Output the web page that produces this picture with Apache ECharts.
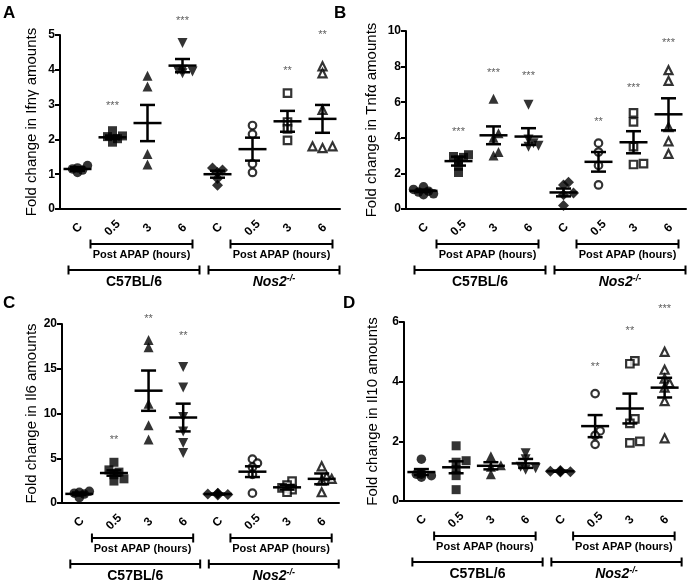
<!DOCTYPE html>
<html><head><meta charset="utf-8">
<script src="https://cdn.jsdelivr.net/npm/echarts@6/dist/echarts.min.js"></script>
<style>html,body{margin:0;padding:0;background:#fff}#c{width:688px;height:585px}</style>
</head><body><div id="c"></div>
<script>
// ---------- DATA ----------
const categories = ['C', '0.5', '3', '6', 'C', '0.5', '3', '6'];
const bracketInner = 'Post APAP (hours)';
const strainLabels = ['C57BL/6', 'Nos2'];

// Panel A: Ifng
const ifngPoints = [
  [1.05, 1.12, 1.18, 1.25, 1.15],
  [1.92, 2.02, 2.08, 2.1, 2.25],
  [3.83, 3.52, 1.58, 1.28],
  [4.77, 4.0, 3.95, 3.9, 4.0],
  [1.18, 1.12, 1.05, 0.88, 0.68],
  [2.4, 2.15, 1.3, 1.05],
  [3.33, 2.5, 2.3, 1.97],
  [4.1, 3.9, 2.85, 1.8, 1.75, 1.8]
];
const ifngMeans = [1.15, 2.06, 2.47, 4.12, 1.0, 1.72, 2.52, 2.59];
const ifngSems  = [0.05, 0.05, 0.52, 0.19, 0.1, 0.33, 0.3, 0.4];
const ifngStars = [[1, 3.05, '***'], [3, 5.49, '***'], [6, 4.05, '**'], [7, 5.09, '**']];

// Panel B: Tnfa
const tnfaPoints = [
  [1.25, 1.1, 0.95, 0.85, 0.8, 1.0],
  [3.05, 2.95, 2.75, 2.4, 2.05, 2.9],
  [6.2, 4.25, 4.0, 3.2, 3.0],
  [5.85, 3.9, 3.7, 3.5, 3.55],
  [1.5, 1.35, 0.9, 0.8, 0.2],
  [3.7, 3.2, 2.45, 1.35],
  [5.4, 4.9, 3.5, 2.55, 2.5],
  [7.8, 7.2, 4.6, 3.8, 3.1]
];
const tnfaMeans = [1.02, 2.69, 4.14, 4.07, 0.93, 2.65, 3.75, 5.32];
const tnfaSems  = [0.07, 0.25, 0.5, 0.47, 0.22, 0.55, 0.62, 0.9];
const tnfaStars = [[1, 4.48, '***'], [2, 7.8, '***'], [3, 7.65, '***'], [5, 5.04, '**'], [6, 6.96, '***'], [7, 9.51, '***']];

// Panel C: Il6
const il6Points = [
  [1.3, 1.2, 1.0, 0.6, 1.1],
  [4.55, 3.45, 3.15, 2.7, 2.45, 3.7],
  [18.2, 17.4, 11.1, 8.7, 7.1],
  [15.2, 12.9, 9.6, 8.0, 6.7, 5.6],
  [1.1, 1.0, 0.95, 1.05, 0.9],
  [4.9, 4.45, 4.0, 3.2, 1.1],
  [2.45, 2.0, 1.7, 1.5, 1.2],
  [4.1, 3.0, 2.7, 2.5, 1.2]
];
const il6Means = [1.02, 3.35, 12.55, 9.55, 1.0, 3.5, 1.75, 2.7];
const il6Sems  = [0.15, 0.3, 2.25, 1.55, 0.05, 0.6, 0.25, 0.6];
const il6Stars = [[1, 7.43, '**'], [2, 20.9, '**'], [3, 19.0, '**']];

// Panel D: Il10
const il10Points = [
  [1.4, 0.95, 0.9, 0.85, 0.8, 0.9],
  [1.85, 1.35, 1.3, 1.05, 0.85, 0.38],
  [1.5, 1.2, 1.15, 0.9],
  [1.6, 1.4, 1.15, 1.05, 1.1],
  [1.0, 1.0, 0.98, 1.02, 0.97],
  [3.6, 2.35, 2.2, 1.9],
  [4.7, 4.6, 2.75, 2.6, 2.0, 1.95],
  [5.0, 4.4, 4.1, 3.95, 3.8, 3.35, 2.1]
];
const il10Means = [0.97, 1.13, 1.18, 1.26, 1.0, 2.51, 3.1, 3.8];
const il10Sems  = [0.1, 0.2, 0.12, 0.15, 0.02, 0.37, 0.5, 0.33];
const il10Stars = [[5, 4.58, '**'], [6, 5.81, '**'], [7, 6.53, '***']];

// ---------- LAYOUT / STYLE ----------
const FONT = 'Liberation Sans, Arial, sans-serif';
const panels = [
  {letter: 'A', lx: 3, ly: 5, name: 'Fold change in Ifn\u03b3 amounts', pts: ifngPoints, means: ifngMeans, sems: ifngSems, stars: ifngStars, max: 5, interval: 1,
   grid: {left: 60, top: 35, width: 280, height: 174}, nameGap: 21},
  {letter: 'B', lx: 334, ly: 5, name: 'Fold change in Tnf\u03b1 amounts', pts: tnfaPoints, means: tnfaMeans, sems: tnfaSems, stars: tnfaStars, max: 10, interval: 2,
   grid: {left: 406, top: 31, width: 280, height: 178}, nameGap: 27},
  {letter: 'C', lx: 3, ly: 295, name: 'Fold change in Il6 amounts', pts: il6Points, means: il6Means, sems: il6Sems, stars: il6Stars, max: 20, interval: 5,
   grid: {left: 62, top: 324, width: 277, height: 179}, nameGap: 22},
  {letter: 'D', lx: 343, ly: 295, name: 'Fold change in Il10 amounts', pts: il10Points, means: il10Means, sems: il10Sems, stars: il10Stars, max: 6, interval: 2,
   grid: {left: 404, top: 322, width: 278, height: 179}, nameGap: 24}
];
const groupSymbols = [
  {symbol: 'circle', rot: 0, open: false, size: 9.5},
  {symbol: 'rect', rot: 0, open: false, size: 9},
  {symbol: 'triangle', rot: 0, open: false, size: 10},
  {symbol: 'triangle', rot: 180, open: false, size: 10},
  {symbol: 'diamond', rot: 0, open: false, size: 11},
  {symbol: 'circle', rot: 0, open: true, size: 7.5},
  {symbol: 'rect', rot: 0, open: true, size: 7.5},
  {symbol: 'triangle', rot: 0, open: true, size: 8}
];

// horizontal spreading of overlapping points (column scatter)
function spread(vals, pxPerUnit) {
  const d = 5, minDist = 5.5;
  const order = vals.map((v, i) => i).sort((a, b) => vals[a] - vals[b]);
  const placed = [];
  const off = new Array(vals.length).fill(0);
  order.forEach(i => {
    const y = vals[i] * pxPerUnit;
    const cands = [0, d, -d, 2 * d, -2 * d];
    let chosen = cands[0];
    for (const c of cands) {
      if (placed.every(p => Math.hypot(p[0] - c, p[1] - y) >= minDist)) { chosen = c; break; }
    }
    placed.push([chosen, y]);
    off[i] = chosen;
  });
  return off;
}

const option = {animation: false, backgroundColor: '#fff', grid: [], xAxis: [], yAxis: [], series: []};

panels.forEach((p, g) => {
  option.grid.push(p.grid);
  option.xAxis.push({
    type: 'category', gridIndex: g, data: categories, boundaryGap: true,
    axisLine: {lineStyle: {color: '#000', width: 2}},
    axisTick: {alignWithLabel: true, length: 5, lineStyle: {color: '#000', width: 2}},
    axisLabel: {rotate: 45, color: '#000', fontWeight: 'bold', fontSize: 12, fontFamily: FONT, margin: 19, interval: 0,
                align: 'center', verticalAlign: 'middle'},
    splitLine: {show: false}
  });
  option.yAxis.push({
    type: 'value', gridIndex: g, min: 0, max: p.max, interval: p.interval,
    name: p.name, nameLocation: 'middle', nameRotate: 90, nameGap: p.nameGap,
    nameTextStyle: {color: '#000', fontSize: 15, fontFamily: FONT},
    axisLine: {show: true, lineStyle: {color: '#000', width: 2}},
    axisTick: {show: true, length: 5, lineStyle: {color: '#000', width: 2}},
    axisLabel: {color: '#000', fontWeight: 'bold', fontSize: 12, fontFamily: FONT, margin: 5},
    splitLine: {show: false}
  });
  const pxPerUnit = p.grid.height / p.max;
  const data = [];
  p.pts.forEach((vals, gi) => {
    const s = groupSymbols[gi];
    const offs = spread(vals, pxPerUnit);
    vals.forEach((v, k) => {
      data.push({
        value: [gi, v], symbol: s.symbol, symbolRotate: s.rot,
        symbolSize: s.size, symbolOffset: [offs[k], 0],
        itemStyle: s.open ? {color: '#fff', borderColor: '#000', borderWidth: 2.2} : {color: '#000', borderWidth: 0}
      });
    });
  });
  option.series.push({type: 'scatter', xAxisIndex: g, yAxisIndex: g, data: data, z: 2, clip: false});
  option.series.push({
    type: 'custom', xAxisIndex: g, yAxisIndex: g, z: 3, clip: false,
    data: p.means.map((m, i) => [i, m, p.sems[i]]),
    renderItem: function (params, api) {
      const x = api.value(0), m = api.value(1), s = api.value(2);
      const c = api.coord([x, m]), t = api.coord([x, m + s]), b = api.coord([x, m - s]);
      const st = {stroke: '#000', lineWidth: 2.5};
      const hw = 14, cw = 7.5;
      return {type: 'group', children: [
        {type: 'line', shape: {x1: c[0] - hw, y1: c[1], x2: c[0] + hw, y2: c[1]}, style: st},
        {type: 'line', shape: {x1: c[0], y1: t[1], x2: c[0], y2: b[1]}, style: st},
        {type: 'line', shape: {x1: c[0] - cw, y1: t[1], x2: c[0] + cw, y2: t[1]}, style: st},
        {type: 'line', shape: {x1: c[0] - cw, y1: b[1], x2: c[0] + cw, y2: b[1]}, style: st}
      ]};
    }
  });
  option.series.push({
    type: 'scatter', xAxisIndex: g, yAxisIndex: g, z: 4, clip: false, symbolSize: 1,
    itemStyle: {color: 'rgba(0,0,0,0)'},
    data: p.stars.map(s => ({value: [s[0], s[1]], name: s[2]})),
    label: {show: true, position: 'inside', formatter: '{b}', color: '#333', fontSize: 11, fontFamily: FONT, offset: [0, 3]}
  });
});

const chart = echarts.init(document.getElementById('c'), null, {renderer: 'canvas'});
chart.setOption(option);

// brackets and labels under each panel, positioned from category coordinates
const graphics = [];
function bracket(x1, x2, y) {
  const st = {stroke: '#000', lineWidth: 2};
  graphics.push({type: 'line', shape: {x1: x1, y1: y, x2: x2, y2: y}, style: st});
  graphics.push({type: 'line', shape: {x1: x1, y1: y - 4.5, x2: x1, y2: y + 4.5}, style: st});
  graphics.push({type: 'line', shape: {x1: x2, y1: y - 4.5, x2: x2, y2: y + 4.5}, style: st});
}
panels.forEach((p, g) => {
  const cx = i => chart.convertToPixel({xAxisIndex: g, yAxisIndex: g}, [i, 0]);
  const axisY = cx(0)[1];
  graphics.push({type: 'text', x: p.lx, y: p.ly, style: {text: p.letter, font: 'bold 17px ' + FONT, fill: '#000'}});
  [0, 4].forEach((b, si) => {
    const xPost1 = cx(b + 1)[0] - 22, xPost2 = cx(b + 3)[0] + 10;
    bracket(xPost1, xPost2, axisY + 35);
    graphics.push({type: 'text', x: (xPost1 + xPost2) / 2, y: axisY + 46,
      style: {text: bracketInner, font: 'bold 11px ' + FONT, fill: '#000', textAlign: 'center', textVerticalAlign: 'middle'}});
    const xb1 = cx(b)[0] - 9, xb2 = cx(b + 3)[0] + 17;
    bracket(xb1, xb2, axisY + 61);
    if (si === 0) {
      graphics.push({type: 'text', x: (xb1 + xb2) / 2, y: axisY + 73,
        style: {text: strainLabels[0], font: 'bold 14px ' + FONT, fill: '#000', textAlign: 'center', textVerticalAlign: 'middle'}});
    } else {
      graphics.push({type: 'text', x: (xb1 + xb2) / 2, y: axisY + 73,
        style: {text: '{a|' + strainLabels[1] + '}{b|-/-}', textAlign: 'center', textVerticalAlign: 'middle',
          rich: {a: {fontFamily: FONT, fontSize: 14, fontWeight: 'bold', fontStyle: 'italic', fill: '#000', color: '#000'},
                 b: {fontFamily: FONT, fontSize: 9, fontWeight: 'bold', fontStyle: 'italic', color: '#000', verticalAlign: 'top', padding: [0, 0, 6, 0]}}}});
    }
  });
});
chart.setOption({graphic: graphics});
</script>
</body></html>
